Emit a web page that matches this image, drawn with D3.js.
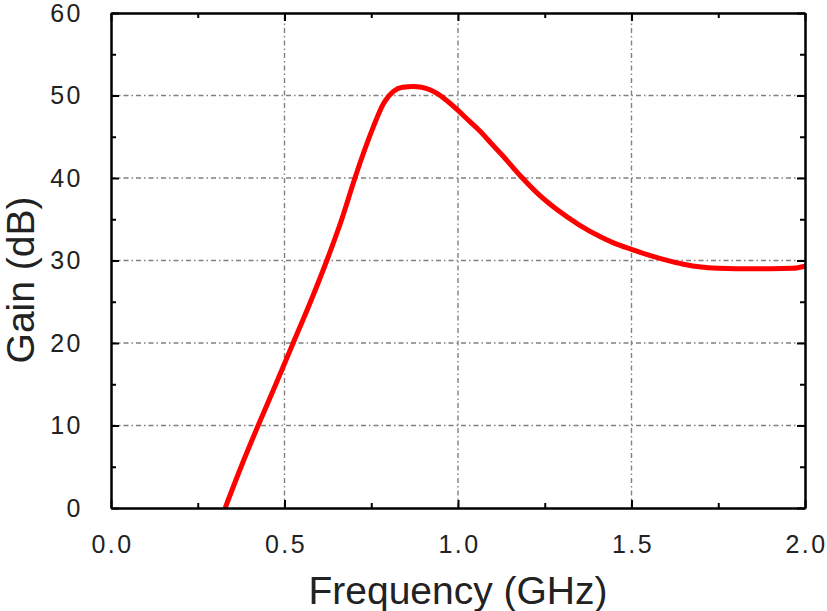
<!DOCTYPE html>
<html lang="en">

<head>
  <meta charset="UTF-8">
  <title>Gain vs Frequency</title>
  <script src="https://d3js.org/d3.v7.min.js"></script>
  <style>
    body {
      margin: 0;
      padding: 0;
      background-color: #ffffff;
    }

    .axis text {
      font-family: "Liberation Sans", Arial, sans-serif;
      font-size: 25px;
      letter-spacing: 2.5px;
      fill: #222;
    }

    .axis path,
    .axis line {
      stroke: #000;
      stroke-width: 2px;
    }

    .grid line {
      stroke: #808080;
      stroke-width: 1.4px;
      stroke-dasharray: 5, 3, 1.5, 3;
    }

    .axis-label {
      font-family: "Liberation Sans", Arial, sans-serif;
      font-size: 39px;
      fill: #222;
    }

    .curve {
      fill: none;
      stroke: #ff0000;
      stroke-width: 5px;
      stroke-linejoin: round;
    }
  </style>
</head>

<body>
  <div id="chart"></div>
  <script>
    // values
    const freq = [0.329, 0.375, 0.424, 0.475, 0.525, 0.575, 0.622, 0.665, 0.703, 0.73, 0.756, 0.785,
      0.814, 0.84, 0.871, 0.895, 0.919, 0.945, 0.97, 1.0, 1.03, 1.063, 1.1, 1.131, 1.179, 1.23,
      1.284, 1.35, 1.409, 1.45, 1.5, 1.55, 1.6, 1.65, 1.7, 1.75, 1.8, 1.85, 1.9, 1.965, 2.0];
    const gain = [0, 5, 10, 15, 20, 25, 30, 35, 40, 43.3, 46.2, 49,
      50.5, 51.0, 51.1, 51.0, 50.7, 50.1, 49.3, 48.2, 47.0, 45.7, 44.0, 42.6, 40.3, 38.1,
      36.2, 34.3, 32.9, 32.1, 31.35, 30.65, 30.05, 29.55, 29.2, 29.05, 29.0, 29.0, 29.0, 29.05, 29.3];

    const xTicks = [0, 0.5, 1.0, 1.5, 2.0];
    const xMinor = [0.25, 0.75, 1.25, 1.75];
    const yTicks = [0, 10, 20, 30, 40, 50, 60];
    const yMinor = [5, 15, 25, 35, 45, 55];

    const data = freq.map((f, i) => ({ f: f, g: gain[i] }));

    const totalW = 827, totalH = 611;
    const plotLeft = 111, plotRight = 805, plotTop = 13, plotBottom = 508;

    const svg = d3.select("#chart")
      .append("svg")
      .attr("width", totalW)
      .attr("height", totalH);

    const x = d3.scaleLinear().domain([0, 2]).range([plotLeft, plotRight]);
    const y = d3.scaleLinear().domain([0, 60]).range([plotBottom, plotTop]);

    // grid
    svg.append("g")
      .attr("class", "grid")
      .selectAll("line")
      .data(xTicks.slice(1, -1))
      .enter()
      .append("line")
      .attr("x1", d => x(d))
      .attr("x2", d => x(d))
      .attr("y1", plotBottom)
      .attr("y2", plotTop);

    svg.append("g")
      .attr("class", "grid")
      .selectAll("line")
      .data(yTicks.slice(1, -1))
      .enter()
      .append("line")
      .attr("x1", plotLeft)
      .attr("x2", plotRight)
      .attr("y1", d => y(d))
      .attr("y2", d => y(d));

    // curve
    const line = d3.line()
      .x(d => x(d.f))
      .y(d => y(d.g))
      .curve(d3.curveMonotoneX);

    svg.append("path")
      .datum(data)
      .attr("class", "curve")
      .attr("d", line);

    // axes (ticks pointing inward on all four sides)
    svg.append("g")
      .attr("class", "axis")
      .attr("transform", `translate(0, ${plotBottom})`)
      .call(d3.axisBottom(x).tickValues(xTicks).tickSizeInner(-8).tickSizeOuter(0)
        .tickPadding(27).tickFormat(d3.format(".1f")))
      .selectAll("text")
      .attr("dx", "1px");

    svg.append("g")
      .attr("class", "axis")
      .attr("transform", `translate(0, ${plotBottom})`)
      .call(d3.axisBottom(x).tickValues(xMinor).tickSizeInner(-5).tickSizeOuter(0).tickFormat(""));

    svg.append("g")
      .attr("class", "axis")
      .attr("transform", `translate(0, ${plotTop})`)
      .call(d3.axisTop(x).tickValues(xTicks).tickSizeInner(-8).tickSizeOuter(0).tickFormat(""));

    svg.append("g")
      .attr("class", "axis")
      .attr("transform", `translate(0, ${plotTop})`)
      .call(d3.axisTop(x).tickValues(xMinor).tickSizeInner(-5).tickSizeOuter(0).tickFormat(""));

    svg.append("g")
      .attr("class", "axis")
      .attr("transform", `translate(${plotLeft}, 0)`)
      .call(d3.axisLeft(y).tickValues(yTicks).tickSizeInner(-8).tickSizeOuter(0)
        .tickPadding(28));

    svg.append("g")
      .attr("class", "axis")
      .attr("transform", `translate(${plotLeft}, 0)`)
      .call(d3.axisLeft(y).tickValues(yMinor).tickSizeInner(-5).tickSizeOuter(0).tickFormat(""));

    svg.append("g")
      .attr("class", "axis")
      .attr("transform", `translate(${plotRight}, 0)`)
      .call(d3.axisRight(y).tickValues(yTicks).tickSizeInner(-8).tickSizeOuter(0).tickFormat(""));

    svg.append("g")
      .attr("class", "axis")
      .attr("transform", `translate(${plotRight}, 0)`)
      .call(d3.axisRight(y).tickValues(yMinor).tickSizeInner(-5).tickSizeOuter(0).tickFormat(""));

    // axis titles
    svg.append("text")
      .attr("class", "axis-label")
      .attr("x", (plotLeft + plotRight) / 2)
      .attr("y", 604)
      .attr("text-anchor", "middle")
      .text("Frequency (GHz)");

    svg.append("text")
      .attr("class", "axis-label")
      .attr("transform", "translate(34, 280) rotate(-90)")
      .attr("text-anchor", "middle")
      .text("Gain (dB)");
  </script>
</body>

</html>
